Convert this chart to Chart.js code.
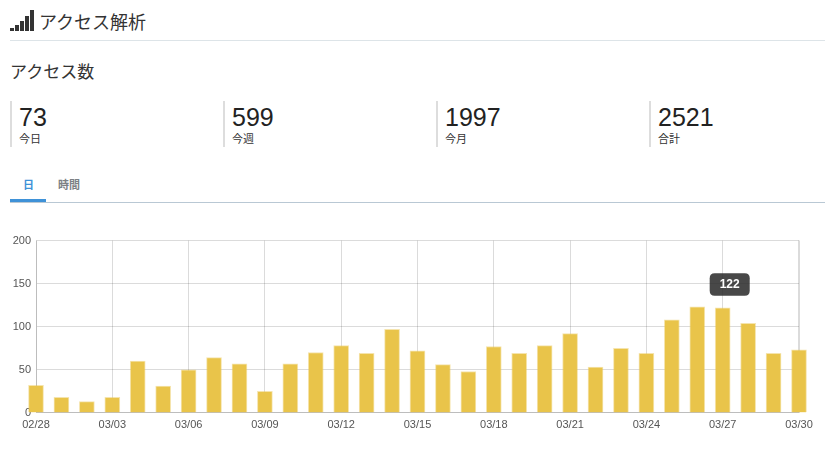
<!DOCTYPE html>
<html lang="ja">
<head>
<meta charset="utf-8">
<title>アクセス解析</title>
<script src="https://cdn.jsdelivr.net/npm/chart.js@4"></script>
<style>
  html, body { margin: 0; padding: 0; background: #fff; }
  body { width: 825px; height: 449px; position: relative; overflow: hidden;
         font-family: "Liberation Sans", "Noto Sans CJK JP", sans-serif; color: #333; }
  .abs { position: absolute; white-space: nowrap; }
  #icon span { position: absolute; bottom: 0; width: 4px; background: #333; }
  .stat { position: absolute; top: 101px; height: 46px; border-left: 2px solid #ddd; }
  .stat b { position: absolute; left: 7px; top: 1px; font-weight: normal; font-size: 25px; line-height: 30px; color: #222; }
  .stat i { position: absolute; left: 7px; top: 31px; font-style: normal; font-size: 11px; line-height: 15px; color: #333; white-space: nowrap; }
  #chartBox { position: absolute; left: 0; top: 229px; width: 825px; height: 209px; }
</style>
</head>
<body>
<div id="icon" class="abs" style="left:10px;top:10px;width:24px;height:21px">
  <span style="left:0;height:3px"></span>
  <span style="left:5px;height:6px"></span>
  <span style="left:10px;height:10px"></span>
  <span style="left:15px;height:15px"></span>
  <span style="left:20px;height:21px"></span>
</div>
<div class="abs" style="left:39px;top:11px;font-size:18px;line-height:24px">アクセス解析</div>
<div class="abs" style="left:10px;top:40px;width:815px;height:1px;background:#dde4e8"></div>
<div class="abs" style="left:10px;top:61px;font-size:17px;line-height:24px">アクセス数</div>
<div id="stats"></div>
<div class="abs" style="left:23px;top:177px;font-size:11px;line-height:16px;font-weight:bold;color:#3f92d8">日</div>
<div class="abs" style="left:58px;top:177px;font-size:11px;line-height:16px;font-weight:bold;color:#7b8084">時間</div>
<div class="abs" style="left:10px;top:202px;width:815px;height:1px;background:#b9c8d4"></div>
<div class="abs" style="left:10px;top:199px;width:36px;height:3px;background:#3f92d8"></div>
<div id="chartBox"><canvas id="accessChart"></canvas></div>

<script>
// 集計
const statValues = ['73', '599', '1997', '2521'];
const statLabels = ['今日', '今週', '今月', '合計'];
const statLefts = [10, 223, 436, 649];

// 日別アクセス数
const days = ['02/28', '03/01', '03/02', '03/03', '03/04', '03/05', '03/06', '03/07',
  '03/08', '03/09', '03/10', '03/11', '03/12', '03/13', '03/14', '03/15', '03/16',
  '03/17', '03/18', '03/19', '03/20', '03/21', '03/22', '03/23', '03/24', '03/25',
  '03/26', '03/27', '03/28', '03/29', '03/30'];
const counts = [32, 18, 13, 18, 60, 31, 50, 64, 57, 25, 57, 70, 78, 69, 97, 72, 56,
  48, 77, 69, 78, 92, 53, 75, 69, 108, 123, 122, 104, 69, 73];
const activeIndex = 27;

statValues.forEach((v, i) => {
  const d = document.createElement('div');
  d.className = 'stat';
  d.style.left = statLefts[i] + 'px';
  d.innerHTML = `<b>${v}</b><i>${statLabels[i]}</i>`;
  document.getElementById('stats').appendChild(d);
});

// ツールチップ位置
Chart.Tooltip.positioners.aboveBar = function(items) {
  if (!items.length) return false;
  const el = items[0].element;
  return { x: el.x + 7, y: el.y - 10 };
};

const gridColor = 'rgba(0, 0, 0, 0.14)';
const chart = new Chart(document.getElementById('accessChart'), {
  type: 'bar',
  data: {
    labels: days,
    datasets: [{
      data: counts,
      backgroundColor: '#e9c44a',
      borderColor: 'rgba(233, 196, 74, 0.45)',
      borderWidth: 1,
      barThickness: 15,
      clip: false
    }]
  },
  options: {
    responsive: true,
    maintainAspectRatio: false,
    devicePixelRatio: 1,
    animation: false,
    layout: { padding: { left: 0, right: 26, top: 8, bottom: 0 } },
    plugins: {
      legend: { display: false },
      tooltip: {
        enabled: true,
        position: 'aboveBar',
        xAlign: 'center',
        yAlign: 'bottom',
        caretSize: 0,
        cornerRadius: 5,
        padding: { left: 10, right: 10, top: 4, bottom: 4 },
        backgroundColor: 'rgba(40, 40, 40, 0.85)',
        bodyColor: '#fff',
        bodyFont: { family: '"Liberation Sans", sans-serif', size: 12, weight: 'bold' },
        displayColors: false,
        callbacks: {
          title: () => '',
          label: ctx => String(ctx.parsed.y)
        }
      }
    },
    scales: {
      x: {
        offset: false,
        grid: {
          offset: false,
          drawTicks: false,
          color: gridColor,
          lineWidth: ctx => (ctx.tick && ctx.tick.value === days.length - 1 ? 2 : 1)
        },
        border: { color: gridColor },
        ticks: {
          autoSkip: true,
          maxTicksLimit: 11,
          maxRotation: 0,
          padding: 6,
          color: '#555',
          font: { family: '"Liberation Sans", sans-serif', size: 11 }
        }
      },
      y: {
        min: 0,
        max: 200,
        afterFit: scale => { scale.width = 36; },
        grid: { color: gridColor, drawTicks: false },
        border: { color: gridColor },
        ticks: {
          stepSize: 50,
          padding: 5,
          color: '#555',
          font: { family: '"Liberation Sans", sans-serif', size: 11 }
        }
      }
    }
  }
});

// 03/27 のツールチップを表示
chart.tooltip.setActiveElements([{ datasetIndex: 0, index: activeIndex }], { x: 0, y: 0 });
chart.update();
</script>
</body>
</html>
